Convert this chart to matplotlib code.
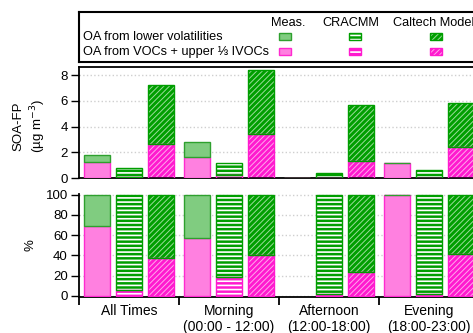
import numpy as np
import matplotlib
matplotlib.use("Agg")
import matplotlib.pyplot as plt
from matplotlib.patches import Rectangle

plt.rcParams['font.family'] = ['Liberation Sans', 'DejaVu Sans']

# SOA formation potential (ug m-3) by time of day
categories = ['All Times', 'Morning\n(00:00 - 12:00)', 'Afternoon\n(12:00-18:00)', 'Evening\n(18:00-23:00)']
meas_vocs = [1.25, 1.60, 0.0, 1.15]
meas_lowvol = [0.55, 1.22, 0.0, 0.0]
cracmm_vocs = [0.045, 0.22, 0.007, 0.013]
cracmm_lowvol = [0.715, 0.93, 0.413, 0.617]
caltech_vocs = [2.67, 3.40, 1.36, 2.40]
caltech_lowvol = [4.53, 5.00, 4.29, 3.46]

yticks_top = [0, 2, 4, 6, 8]
yticks_pct = [0, 20, 40, 60, 80, 100]

# colours
G_MEAS, G_MEAS_EDGE = '#80CC80', '#2EA02E'
P_MEAS, P_MEAS_EDGE = '#FF80E0', '#FF2AD0'
G_MOD, P_MOD = '#009E00', '#FF1ACF'
G_LINE, P_LINE = '#9ADC9A', '#FFA8EE'

W = 0.26
OFFS = [-0.32, 0.0, 0.315]
STRIPE, STRIPE_LW = '----', 1.2
DIAG, DIAG_LW = '//////', 0.7


def set_hlw(patches, lw):
    for p in patches:
        if hasattr(p, 'set_hatch_linewidth'):
            p.set_hatch_linewidth(lw)


def hatched(ax, x, h, bottom, face, line, edge, hatch, hlw):
    plt.rcParams['hatch.linewidth'] = hlw
    b = ax.bar(x, h, W, bottom, color=face, edgecolor=line, hatch=hatch,
               linewidth=0, zorder=2)
    set_hlw(b, hlw)
    ax.bar(x, h, W, bottom, fill=False, edgecolor=edge, linewidth=1.0, zorder=3)


def plain(ax, x, h, bottom, face, edge):
    ax.bar(x, h, W, bottom, color=face, edgecolor=edge, linewidth=1.0, zorder=3)


def draw_panel(ax, mv, ml, cv, cl, tv, tl):
    x = np.arange(len(categories)) + 0.5
    mv, ml, cv, cl, tv, tl = map(np.asarray, (mv, ml, cv, cl, tv, tl))
    plain(ax, x + OFFS[0], mv, 0, P_MEAS, P_MEAS_EDGE)
    plain(ax, x + OFFS[0], ml, mv, G_MEAS, G_MEAS_EDGE)
    hatched(ax, x + OFFS[1], cv, 0, P_MOD, 'white', P_MOD, STRIPE, STRIPE_LW)
    hatched(ax, x + OFFS[1], cl, cv, G_MOD, 'white', G_MOD, STRIPE, STRIPE_LW)
    hatched(ax, x + OFFS[2], tv, 0, P_MOD, P_LINE, P_MOD, DIAG, DIAG_LW)
    hatched(ax, x + OFFS[2], tl, tv, G_MOD, G_LINE, G_MOD, DIAG, DIAG_LW)


def pct(v, l):
    v, l = np.asarray(v, float), np.asarray(l, float)
    tot = v + l
    with np.errstate(invalid='ignore', divide='ignore'):
        pv = np.where(tot > 0, v / tot * 100, np.nan)
        pl = np.where(tot > 0, l / tot * 100, np.nan)
    return pv, pl


fig = plt.figure(figsize=(4.73, 3.33), dpi=100)
FW, FH = 473.0, 333.0


def px_axes(l, t, r, b):
    return fig.add_axes([l / FW, 1 - b / FH, (r - l) / FW, (b - t) / FH])


ax1 = px_axes(79, 67, 479, 178)
ax2 = px_axes(79, 194, 479, 297)
leg = px_axes(79, 12, 490, 61.5)

for ax in (ax1, ax2):
    ax.set_xlim(0, 4)
    ax.spines['right'].set_visible(False)
    for s in ax.spines.values():
        s.set_linewidth(1.3)
    ax.tick_params(axis='y', direction='out', length=6, width=1.0, labelsize=9.5, pad=2)
    ax.yaxis.grid(True, color='#CFCFCF', linestyle=':', linewidth=1.0)
    ax.set_axisbelow(True)

# top: absolute SOA-FP
draw_panel(ax1, meas_vocs, meas_lowvol, cracmm_vocs, cracmm_lowvol, caltech_vocs, caltech_lowvol)
ax1.set_ylim(0, 8.63)
ax1.set_yticks(yticks_top)
ax1.set_xticks([])
ax1.text(-0.122, 0.47, 'SOA-FP\n(µg m$^{-3}$)', transform=ax1.transAxes, rotation=90,
         ha='center', va='center', multialignment='center', fontsize=9.5, linespacing=1.3)

# bottom: fractional contribution
mp = pct(meas_vocs, meas_lowvol)
cp = pct(cracmm_vocs, cracmm_lowvol)
tp = pct(caltech_vocs, caltech_lowvol)
draw_panel(ax2, mp[0], mp[1], cp[0], cp[1], tp[0], tp[1])
ax2.set_ylim(-1, 100.5)
ax2.set_yticks(yticks_pct)
ax2.spines['top'].set_visible(False)
ax2.set_xticks(np.arange(5))
ax2.set_xticklabels([])
ax2.set_xticks(np.arange(4) + 0.5, minor=True)
ax2.set_xticklabels(categories, minor=True, fontsize=10, linespacing=1.15)
ax2.tick_params(axis='x', which='major', direction='out', length=6, width=1.3)
ax2.tick_params(axis='x', which='minor', length=0, pad=5)
ax2.text(-0.12, 0.5, '%', transform=ax2.transAxes, rotation=90,
         ha='center', va='center', fontsize=9.5)

# legend box
leg.set_xlim(79, 490)
leg.set_ylim(61.5, 12)
leg.set_xticks([])
leg.set_yticks([])
for s in leg.spines.values():
    s.set_linewidth(1.5)
fs = 9.2
leg.text(288, 23, 'Meas.', ha='center', va='center', fontsize=fs)
leg.text(351, 23, 'CRACMM', ha='center', va='center', fontsize=fs)
leg.text(393, 23, 'Caltech Model', ha='left', va='center', fontsize=fs)
leg.text(83, 36.5, 'OA from lower volatilities', ha='left', va='center', fontsize=fs)
leg.text(83, 51.5, 'OA from VOCs + upper ⅓ IVOCs', ha='left', va='center', fontsize=fs)

swatches = [
    (279, 33, G_MEAS, None, G_MEAS_EDGE, None, 0),
    (279, 48, P_MEAS, None, P_MEAS_EDGE, None, 0),
    (349, 33, G_MOD, 'white', G_MOD, STRIPE, STRIPE_LW),
    (349, 48, P_MOD, 'white', P_MOD, STRIPE, STRIPE_LW),
    (430, 33, G_MOD, G_LINE, G_MOD, DIAG, DIAG_LW),
    (430, 48, P_MOD, P_LINE, P_MOD, DIAG, DIAG_LW),
]
for x0, y0, face, line, edge, hatch, hlw in swatches:
    if hatch:
        plt.rcParams['hatch.linewidth'] = hlw
        r = Rectangle((x0, y0), 12, 7, facecolor=face, edgecolor=line, hatch=hatch, linewidth=0)
        set_hlw([r], hlw)
        leg.add_patch(r)
        leg.add_patch(Rectangle((x0, y0), 12, 7, fill=False, edgecolor=edge, linewidth=1.0))
    else:
        leg.add_patch(Rectangle((x0, y0), 12, 7, facecolor=face, edgecolor=edge, linewidth=1.0))

fig.savefig('out.png', dpi=100)
